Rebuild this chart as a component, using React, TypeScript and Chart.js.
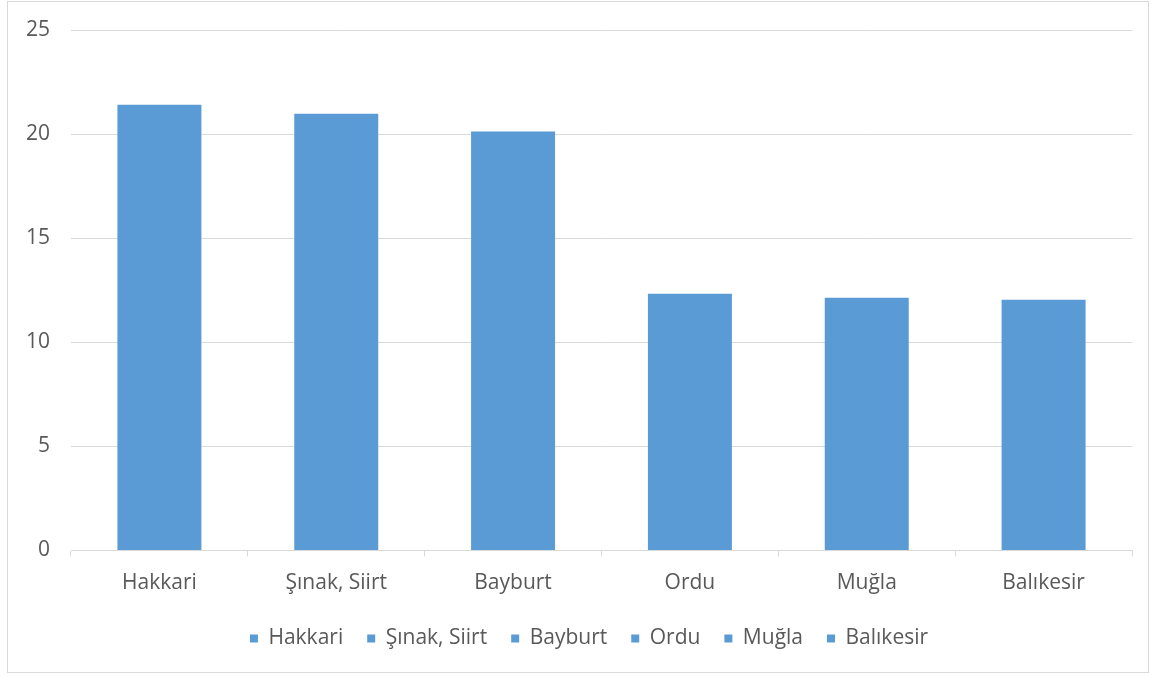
import React, { useEffect, useRef } from "react";
import { Chart, registerables } from "chart.js";

Chart.register(...registerables);

const categories = ["Hakkari", "Şınak, Siirt", "Bayburt", "Ordu", "Muğla", "Balıkesir"];
const values = [21.41, 20.98, 20.13, 12.33, 12.14, 12.04];
const yTicks = [0, 5, 10, 15, 20, 25];

const BAR = "#5b9bd5";
const TEXT = "#595959";
const GRID = "#d9d9d9";
const FONT = "'Open Sans', sans-serif";
const FS = 21;

const legendShift = {
  id: "legendShift",
  afterLayout(chart: any) {
    const lg = chart.legend;
    if (!lg) return;
    const dx = 11;
    const dy = -6.5;
    lg.left += dx;
    lg.right += dx;
    lg.top += dy;
    lg.bottom += dy;
  },
};

export default function App() {
  const ref = useRef<HTMLCanvasElement | null>(null);
  useEffect(() => {
    if (!ref.current) return;
    const chart = new Chart(ref.current, {
      type: "bar",
      data: {
        labels: categories,
        datasets: [
          {
            label: "Series",
            data: values,
            backgroundColor: BAR,
            borderWidth: 0,
            categoryPercentage: 1,
            barPercentage: 0.475,
          },
        ],
      },
      plugins: [legendShift],
      options: {
        animation: false,
        responsive: true,
        maintainAspectRatio: false,
        layout: { padding: { left: 16, right: 16, top: 28, bottom: 6.5 } },
        plugins: {
          tooltip: { enabled: false },
          legend: {
            position: "bottom",
            onClick: () => {},
            labels: {
              color: TEXT,
              font: { family: FONT, size: FS },
              boxWidth: 8,
              boxHeight: 8,
              padding: 24,
              generateLabels: () =>
                categories.map((c, i) => ({
                  text: c,
                  fillStyle: BAR,
                  strokeStyle: BAR,
                  lineWidth: 0,
                  hidden: false,
                  index: i,
                  datasetIndex: 0,
                  fontColor: TEXT,
                })),
            },
          },
        },
        scales: {
          x: {
            grid: {
              offset: true,
              drawOnChartArea: false,
              drawTicks: true,
              tickLength: 6,
              color: GRID,
            },
            border: { display: true, color: GRID, width: 1 },
            ticks: {
              color: TEXT,
              font: { family: FONT, size: FS },
              padding: 14.4,
              maxRotation: 0,
              autoSkip: false,
            },
          },
          y: {
            min: 0,
            max: 25,
            afterBuildTicks: (s: any) => {
              s.ticks = yTicks.map((v) => ({ value: v }));
            },
            afterFit: (s: any) => {
              s.width = 47;
              s.paddingTop = 12;
              s.paddingBottom = 12;
            },
            grid: { color: GRID, drawTicks: false, lineWidth: 1 },
            border: { display: false },
            ticks: {
              color: TEXT,
              font: { family: FONT, size: FS },
              padding: 21,
            },
          },
        },
      },
    });
    return () => chart.destroy();
  }, []);

  return (
    <div
      style={{
        position: "absolute",
        left: 7,
        top: 1,
        width: 1140,
        height: 670,
        border: "1px solid #d9d9d9",
        background: "#fff",
      }}
    >
      <canvas ref={ref} />
    </div>
  );
}
